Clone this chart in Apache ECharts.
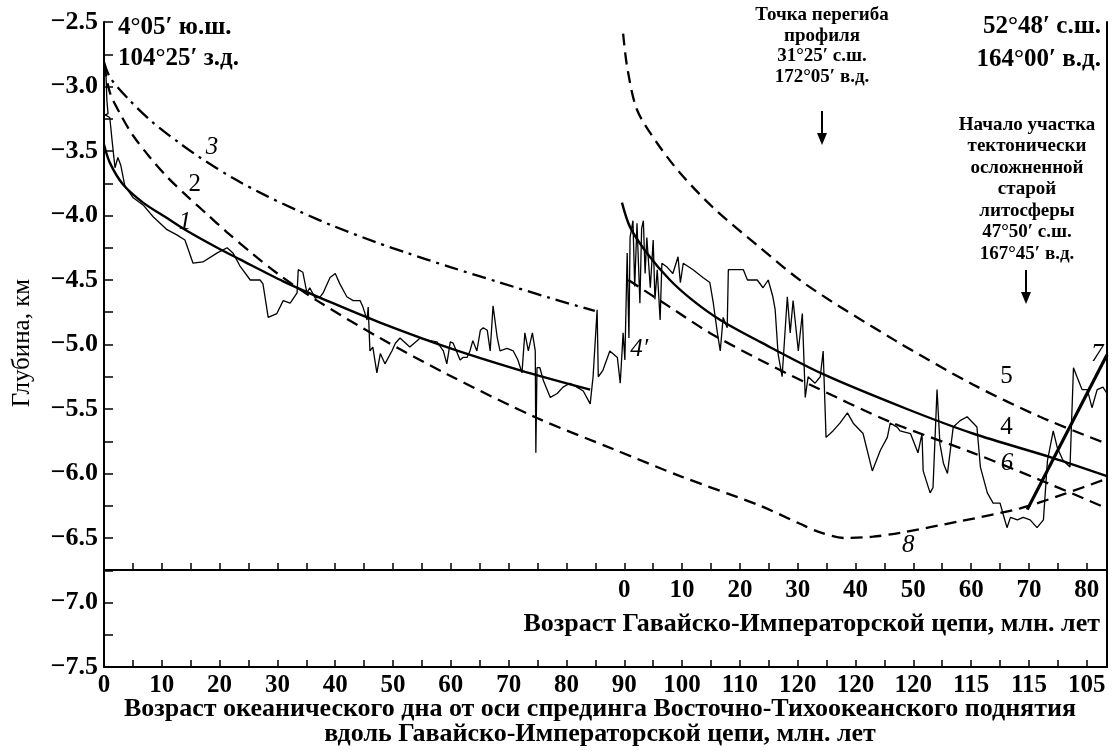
<!DOCTYPE html>
<html><head><meta charset="utf-8">
<script src="https://cdn.jsdelivr.net/npm/echarts@6/dist/echarts.min.js"></script>
<style>html,body{margin:0;padding:0;background:#fff}#c{width:1112px;height:751px}</style>
</head><body><div id="c"></div>
<script>
// ---- tick labels ----
const bottomTickLabels = ['0','10','20','30','40','50','60','70','80','90','100','110','120','120','120','115','115','105'];
const innerTickLabels = ['0','10','20','30','40','50','60','70','80'];

// ---- observed bathymetric profile (position along chain, depth km) ----
const profile = [
[0.3,-2.85],[0.5,-3.11],[0.7,-3.21],[0.2,-3.22],[1.0,-3.24],[1.4,-3.42],[1.9,-3.63],[2.4,-3.55],[2.9,-3.61],[3.6,-3.77],[5.0,-3.86],[6.8,-3.92],[8.5,-4.01],[9.7,-4.06],[10.9,-4.11],[12.6,-4.15],[14.0,-4.19],[15.4,-4.37],[17.1,-4.36],[19.6,-4.29],[21.3,-4.25],[22.3,-4.29],[23.5,-4.39],[25.3,-4.50],[27.0,-4.50],[27.5,-4.53],[28.4,-4.79],[29.9,-4.76],[31.0,-4.66],[32.2,-4.68],[33.4,-4.60],[33.6,-4.42],[34.4,-4.44],[35.1,-4.60],[35.6,-4.56],[36.5,-4.64],[37.4,-4.63],[37.9,-4.60],[39.1,-4.48],[40.0,-4.45],[40.8,-4.53],[42.0,-4.63],[43.1,-4.66],[44.3,-4.66],[44.8,-4.71],[45.5,-4.81],[45.7,-4.71],[46.0,-5.05],[46.5,-5.02],[47.2,-5.22],[47.8,-5.07],[48.6,-5.15],[49.8,-5.05],[50.4,-4.99],[51.2,-4.95],[52.9,-5.02],[54.7,-4.95],[56.4,-4.97],[57.6,-4.98],[58.7,-5.05],[59.3,-5.15],[59.9,-4.98],[60.4,-4.99],[61.6,-5.12],[62.1,-5.10],[62.8,-5.10],[63.3,-5.05],[63.8,-4.97],[64.5,-5.05],[65.1,-4.89],[65.6,-4.87],[66.3,-4.89],[66.8,-5.05],[67.3,-4.70],[68.0,-4.94],[68.5,-5.05],[69.7,-5.03],[70.8,-5.05],[71.6,-5.12],[72.3,-5.22],[72.8,-4.91],[73.4,-5.05],[74.1,-4.91],[74.6,-5.05],[74.7,-5.84],[74.9,-5.18],[75.4,-5.18],[76.0,-5.28],[77.2,-5.41],[78.4,-5.38],[79.4,-5.33],[80.6,-5.30],[81.8,-5.33],[82.9,-5.36],[84.1,-5.46],[84.6,-5.25],[85.3,-4.73],[85.5,-5.25],[86.3,-5.20],[87.5,-5.05],[88.8,-5.10],[89.3,-5.30],[89.8,-4.91],[90.1,-5.12],[90.5,-4.29],[90.8,-4.95],[91.0,-4.17],[91.5,-4.04],[91.8,-4.55],[92.2,-4.06],[92.7,-4.68],[93.0,-4.10],[93.3,-4.04],[93.6,-4.45],[93.9,-4.17],[94.5,-4.56],[95.0,-4.19],[95.3,-4.65],[95.7,-4.42],[96.2,-4.81],[96.5,-4.37],[97.4,-4.40],[98.4,-4.45],[99.3,-4.32],[99.7,-4.52],[100.2,-4.37],[101.9,-4.42],[103.6,-4.48],[104.8,-4.52],[105.4,-4.68],[106.1,-4.91],[106.6,-5.05],[107.1,-4.79],[107.8,-4.87],[108.0,-4.42],[110.6,-4.42],[111.3,-4.50],[113.0,-4.50],[114.0,-4.56],[114.9,-4.50],[115.7,-4.63],[116.1,-4.73],[116.6,-5.07],[117.3,-5.25],[118.2,-4.63],[118.7,-4.91],[119.2,-4.66],[120.1,-5.05],[120.8,-4.76],[121.3,-5.41],[121.8,-5.25],[123.0,-5.30],[123.9,-5.25],[124.4,-5.05],[124.9,-5.72],[126.1,-5.67],[127.3,-5.61],[128.6,-5.53],[129.6,-5.61],[131.3,-5.69],[132.9,-5.98],[134.3,-5.82],[135.5,-5.72],[136.0,-5.61],[137.2,-5.64],[137.7,-5.67],[139.5,-5.69],[140.8,-5.84],[141.5,-5.69],[141.7,-5.98],[142.9,-6.15],[143.4,-6.11],[144.1,-5.35],[144.6,-5.77],[145.2,-5.92],[145.9,-6.00],[146.4,-5.82],[146.9,-5.64],[148.1,-5.59],[149.3,-5.56],[151.0,-5.64],[151.6,-5.95],[152.8,-6.15],[153.8,-6.23],[155.0,-6.23],[155.5,-6.31],[156.2,-6.42],[156.8,-6.34],[158.0,-6.36],[159.0,-6.34],[160.2,-6.36],[161.4,-6.42],[162.5,-6.36],[163.2,-5.90],[164.2,-5.67],[164.9,-5.80],[165.9,-5.90],[167.1,-5.95],[167.7,-5.18],[168.3,-5.25],[169.2,-5.35],[170.1,-5.35],[170.9,-5.49],[171.8,-5.35],[172.8,-5.33],[173.5,-5.38]
];

// ---- model curves ----
const curve1 = [[0,-3.45],[1.0,-3.59],[3.3,-3.76],[6.75,-3.90],[10.9,-4.02],[14.4,-4.12],[19.6,-4.25],[23.5,-4.34],[31.0,-4.51],[39.6,-4.68],[47.75,-4.83],[59.3,-5.02],[72.0,-5.20],[84.1,-5.35]];
const curve2and8 = [[0,-2.83],[1.04,-3.05],[2.77,-3.21],[5.02,-3.38],[7.96,-3.55],[10.9,-3.70],[14.36,-3.85],[17.82,-3.99],[21.28,-4.13],[25.78,-4.30],[30.0,-4.45],[36.85,-4.66],[47.75,-4.95],[59.34,-5.23],[74.91,-5.57],[88.06,-5.81],[99.65,-6.02],[113.5,-6.25],[120.4,-6.39],[123.5,-6.45],[128.0,-6.50],[133.0,-6.49],[137.7,-6.46],[148.1,-6.37],[158.5,-6.27],[165.4,-6.17],[173.5,-6.04]];
const curve3 = [[0,-2.81],[1.04,-2.93],[4.5,-3.11],[8.48,-3.28],[13.1,-3.44],[16.6,-3.55],[22.3,-3.71],[28.2,-3.85],[33.9,-3.97],[39.6,-4.08],[47.2,-4.21],[52.4,-4.29],[59.9,-4.40],[68.5,-4.52],[77.2,-4.64],[84.9,-4.74]];
const curve4 = [[89.6,-3.90],[91.0,-4.09],[93.9,-4.29],[97.9,-4.50],[101.9,-4.66],[106.6,-4.81],[113.5,-4.98],[124.4,-5.23],[138.9,-5.50],[150.3,-5.69],[164.2,-5.88],[173.5,-6.02]];
const curve5 = [[89.8,-2.59],[90.5,-2.85],[92.2,-3.18],[95.7,-3.44],[99.65,-3.67],[105.4,-3.94],[113.5,-4.25],[121.6,-4.54],[136.9,-4.97],[150.3,-5.31],[161.9,-5.56],[173.5,-5.77]];
const curve6 = [[90.7,-4.50],[97.9,-4.71],[104.8,-4.91],[113.5,-5.12],[121.6,-5.30],[136.0,-5.60],[150.3,-5.84],[161.9,-6.05],[173.5,-6.27]];
const curve7 = [[159.7,-6.28],[173.5,-5.08]];

const FONT = '"Liberation Serif", "Times New Roman", serif';
const chart = echarts.init(document.getElementById('c'));

function isMult(v, step) { const r = v / step; return Math.abs(r - Math.round(r)) < 1e-6; }

function curve(data, width, type, smooth) {
  return { type: 'line', data: data, showSymbol: false, symbol: 'none', smooth: smooth ? 0.3 : false,
    silent: true, z: 3,
    lineStyle: { color: '#000', width: width, type: type || 'solid', cap: 'butt' } };
}

const labelItems = [
  { name: '1', value: [14.0, -4.05], it: true },
  { name: '2', value: [15.7, -3.76], it: false },
  { name: '3', value: [18.7, -3.47], it: true },
  { name: '4\u2032', value: [92.6, -5.04], it: true },
  { name: '5', value: [156.1, -5.25], it: false },
  { name: '4', value: [156.1, -5.64], it: false },
  { name: '6', value: [156.2, -5.92], it: true },
  { name: '7', value: [171.8, -5.08], it: true },
  { name: '8', value: [139.1, -6.56], it: true }
];

const boldTxt = (size) => ({ fontFamily: FONT, fontWeight: 'bold', fontSize: size, fill: '#000' });

const option = {
  animation: false,
  backgroundColor: '#fff',
  grid: [
    { left: 104, right: 5, top: 22, bottom: 84 },
    { left: 104, right: 5, top: 22, bottom: 181 }
  ],
  xAxis: [
    { gridIndex: 0, type: 'value', min: 0, max: 173.5, interval: 5, position: 'bottom',
      axisLine: { onZero: false, lineStyle: { color: '#000', width: 2 } },
      axisTick: { inside: true, length: 7, lineStyle: { color: '#000', width: 1.5 } },
      splitLine: { show: false },
      axisLabel: { margin: 6, color: '#000', fontFamily: FONT, fontWeight: 'bold', fontSize: 25,
        showMaxLabel: true, showMinLabel: true,
        formatter: v => { if (!isMult(v, 10)) return ''; const i = Math.round(v / 10); return bottomTickLabels[i] || ''; } } },
    { gridIndex: 1, type: 'value', min: -90, max: 83.5, interval: 5, position: 'bottom',
      axisLine: { onZero: false, lineStyle: { color: '#000', width: 2 } },
      axisTick: { inside: true, length: 7, lineStyle: { color: '#000', width: 1.5 } },
      splitLine: { show: false },
      axisLabel: { margin: 8, color: '#000', fontFamily: FONT, fontWeight: 'bold', fontSize: 25,
        formatter: v => { if (v < -1e-6 || !isMult(v, 10)) return ''; const i = Math.round(v / 10); return innerTickLabels[i] || ''; } } }
  ],
  yAxis: [
    { gridIndex: 0, type: 'value', min: -7.5, max: -2.5, interval: 0.25,
      axisLine: { show: true, onZero: false, lineStyle: { color: '#000', width: 2 } },
      axisTick: { show: true, inside: true, length: 9, lineStyle: { color: '#000', width: 1.5 } },
      splitLine: { show: false },
      axisLabel: { margin: 6, color: '#000', fontFamily: FONT, fontWeight: 'bold', fontSize: 26,
        formatter: v => isMult(v, 0.5) ? v.toFixed(1).replace('-', '\u2212') : '' } },
    { gridIndex: 0, type: 'value', position: 'right', min: -7.5, max: -2.5,
      axisLine: { show: true, onZero: false, lineStyle: { color: '#000', width: 2 } },
      axisTick: { show: false }, axisLabel: { show: false }, splitLine: { show: false } },
    { gridIndex: 1, type: 'value', min: 0, max: 1, show: false }
  ],
  series: [
    Object.assign(curve(profile, 1.3, 'solid', false), { z: 2 }),
    curve(curve1, 2.4, 'solid', true),
    curve(curve2and8, 2.3, [12, 7], true),
    curve(curve3, 2.3, [14, 6, 3, 6], true),
    curve(curve4, 2.4, 'solid', true),
    curve(curve5, 2.3, [12, 7], true),
    curve(curve6, 2.3, [12, 7], true),
    curve(curve7, 3.2, 'solid', false),
    { type: 'scatter', symbolSize: 0, silent: true, z: 5, itemStyle: { opacity: 1 },
      data: labelItems.map(d => ({ name: d.name, value: d.value,
        label: { show: true, position: 'inside', formatter: '{b}', color: '#000', opacity: 1, textBorderWidth: 0,
          fontFamily: FONT, fontSize: 25, fontWeight: 500, fontStyle: d.it ? 'italic' : 'normal' } })) }
  ],
  graphic: [
    { type: 'text', x: 118, y: 28, style: Object.assign(boldTxt(25), { text: '4°05\u2032 ю.ш.', textAlign: 'left', textVerticalAlign: 'middle', align: 'left', verticalAlign: 'middle' }) },
    { type: 'text', x: 118, y: 59, style: Object.assign(boldTxt(25), { text: '104°25\u2032 з.д.', textAlign: 'left', textVerticalAlign: 'middle', align: 'left', verticalAlign: 'middle' }) },
    { type: 'text', x: 1101, y: 27, style: Object.assign(boldTxt(25), { text: '52°48\u2032 с.ш.', textAlign: 'right', textVerticalAlign: 'middle', align: 'right', verticalAlign: 'middle' }) },
    { type: 'text', x: 1101, y: 60, style: Object.assign(boldTxt(25), { text: '164°00\u2032 в.д.', textAlign: 'right', textVerticalAlign: 'middle', align: 'right', verticalAlign: 'middle' }) },
    { type: 'text', x: 822, y: 5, style: Object.assign(boldTxt(19), { text: 'Точка перегиба\nпрофиля\n31°25\u2032 с.ш.\n172°05\u2032 в.д.', lineHeight: 20.5, textAlign: 'center', textVerticalAlign: 'top', align: 'center', verticalAlign: 'top' }) },
    { type: 'text', x: 1027, y: 114, style: Object.assign(boldTxt(19), { text: 'Начало участка\nтектонически\nосложненной\nстарой\nлитосферы\n47°50\u2032 с.ш.\n167°45\u2032 в.д.', lineHeight: 21.5, textAlign: 'center', textVerticalAlign: 'top', align: 'center', verticalAlign: 'top' }) },
    { type: 'line', shape: { x1: 822, y1: 111, x2: 822, y2: 137 }, style: { stroke: '#000', lineWidth: 2 } },
    { type: 'polygon', shape: { points: [[817, 133], [827, 133], [822, 145]] }, style: { fill: '#000' } },
    { type: 'line', shape: { x1: 1026, y1: 270, x2: 1026, y2: 296 }, style: { stroke: '#000', lineWidth: 2 } },
    { type: 'polygon', shape: { points: [[1021, 292], [1031, 292], [1026, 304]] }, style: { fill: '#000' } },
    { type: 'text', x: 1100, y: 624, style: Object.assign(boldTxt(26), { text: 'Возраст Гавайско-Императорской цепи, млн. лет', textAlign: 'right', textVerticalAlign: 'middle', align: 'right', verticalAlign: 'middle' }) },
    { type: 'text', x: 600, y: 709, style: Object.assign(boldTxt(26), { text: 'Возраст океанического дна от оси спрединга Восточно-Тихоокеанского поднятия', textAlign: 'center', textVerticalAlign: 'middle', align: 'center', verticalAlign: 'middle' }) },
    { type: 'text', x: 600, y: 734, style: Object.assign(boldTxt(26), { text: 'вдоль Гавайско-Императорской цепи, млн. лет', textAlign: 'center', textVerticalAlign: 'middle', align: 'center', verticalAlign: 'middle' }) },
    { type: 'text', x: 22, y: 343, rotation: Math.PI / 2, style: { text: 'Глубина, км', fontFamily: FONT, fontSize: 25, fill: '#000', textAlign: 'center', textVerticalAlign: 'middle', align: 'center', verticalAlign: 'middle' } }
  ]
};
chart.setOption(option);
</script>
</body></html>
